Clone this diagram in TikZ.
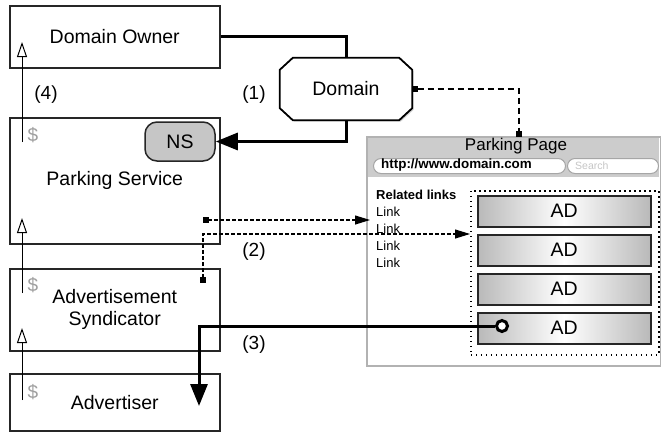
\documentclass[tikz,border=0pt]{standalone}
\usepackage{fontspec}
\setmainfont{Liberation Sans}
\usetikzlibrary{arrows.meta,shadows,calc}
\begin{document}
\begin{tikzpicture}[x=1pt,y=-1pt,
  big/.style={font=\fontsize{19.5}{22}\selectfont},
  box/.style={draw=black!85, line width=1.5pt, fill=white, anchor=north west,
    minimum width=210pt, align=center, big,
    drop shadow={shadow xshift=1.5pt,shadow yshift=-1.5pt,opacity=.35}},
  lbl/.style={font=\fontsize{19}{22}\selectfont},
  dollar/.style={font=\fontsize{19}{22}\selectfont, text=gray!75},
  openarr/.style={line width=1pt, -{Triangle[open,length=15pt,width=10pt]}},
  thickarr/.style={line width=3pt, -{Triangle[length=22pt,width=17pt]}},
  dasharr/.style={line width=1.1pt, dash pattern=on 4pt off 2pt,
    {Square[length=6pt,width=6pt]}-{Triangle[length=15pt,width=9pt]}},
  adbox/.style={draw=black!85, line width=1.5pt, left color=gray!55, right color=gray!55,
    middle color=white, minimum width=173pt, minimum height=31pt, anchor=north west,
    font=\fontsize{19.5}{22}\selectfont},
  linktxt/.style={font=\fontsize{13}{15}\selectfont, anchor=west, inner sep=0pt}
]
\useasboundingbox (0,0) rectangle (661,434);

% left boxes
\node[box, minimum height=62pt] (owner) at (9,5) {Domain Owner};
\node[box, minimum height=126pt] (ps) at (9,117) {Parking Service};
\node[box, minimum height=82pt] (synd) at (9,268) {Advertisement\\Syndicator};
\node[box, minimum height=57pt] (adv) at (9,373) {Advertiser};

% NS
\node[draw=black!85, line width=1.5pt, fill=gray!45, rounded corners=12pt,
  minimum width=70pt, minimum height=39pt, font=\fontsize{19.5}{22}\selectfont]
  (ns) at (180,141.5) {NS};

% dollars
\node[dollar] (d1) at (33,135) {\$};
\node[dollar] (d2) at (33,285) {\$};
\node[dollar] (d3) at (33,392) {\$};

% domain octagon
\node[minimum width=132pt, minimum height=62pt, inner sep=0pt]
  (domain) at (346,89) {};
\draw[line width=1.8pt, fill=white,
  drop shadow={shadow xshift=1.5pt,shadow yshift=-1.5pt,opacity=.35}]
  ($(domain.north west)+(13,0)$) -- ($(domain.north east)+(-13,0)$)
  -- ($(domain.north east)+(0,12)$) -- ($(domain.south east)+(0,-12)$)
  -- ($(domain.south east)+(-13,0)$) -- ($(domain.south west)+(13,0)$)
  -- ($(domain.south west)+(0,-12)$) -- ($(domain.north west)+(0,12)$) -- cycle;
\node[big] (domaintxt) at (domain) {Domain};

% (1) connectors
\draw[line width=3pt] (owner.east) -| (domain.north);
\draw[thickarr] (domain.south) |- (ns.east);

% parking page window
\node[draw=gray!60, line width=1.2pt, fill=white, minimum width=293pt, minimum height=228pt,
  anchor=north west, inner sep=0pt] (page) at (367,137) {};
\fill[gray!40] (367.6,137.6) rectangle (659.4,177);
\draw[gray!60, line width=1.2pt] (page.north west) rectangle (page.south east);
\node[font=\fontsize{17}{19}\selectfont] (ptitle) at (516,146) {Parking Page};
\node[draw=gray!70, line width=1pt, fill=white, rounded corners=7.5pt, minimum width=192pt,
  minimum height=15pt, inner sep=0pt, anchor=north west] (url) at (373,158) {};
\node[font=\bfseries\fontsize{13.4}{15}\selectfont, anchor=west, inner sep=0pt] (urltxt) at (381,165.5) {http://www.domain.com};
\node[draw=gray!70, line width=1pt, fill=white, rounded corners=7.5pt, minimum width=91pt,
  minimum height=15pt, inner sep=0pt, anchor=north west] (search) at (567,158) {};
\node[font=\fontsize{10.5}{12}\selectfont, text=gray!45, anchor=west, inner sep=0pt] (stxt) at (575,166) {Search};

\node[linktxt, font=\bfseries\fontsize{13}{15}\selectfont] (rl) at (376,195) {Related links};
\node[linktxt] (l1) at (376,212) {Link};
\node[linktxt] (l2) at (376,229) {Link};
\node[linktxt] (l3) at (376,246) {Link};
\node[linktxt] (l4) at (376,263) {Link};

% dotted ad area
\node[draw, line width=1.5pt, dash pattern=on 1.5pt off 3.5pt, minimum width=188pt,
  minimum height=164pt, anchor=north west, inner sep=0pt] (adarea) at (470,190) {};

\node[adbox] (ad1) at (477,195) {AD};
\node[adbox] (ad2) at (477,234) {AD};
\node[adbox] (ad3) at (477,273) {AD};
\node[adbox] (ad4) at (477,312) {AD};

% domain -> page dashed
\coordinate (ptop) at (519,137);
\draw[line width=1.4pt, dash pattern=on 6pt off 4pt,
  {Square[length=6pt,width=6pt]}-{Square[length=6pt,width=6pt]}]
  (domain.east) -| (ptop);

% (2) dashed arrows
\coordinate (s1) at (203,220);
\coordinate (e1) at (370,220);
\draw[dasharr] (s1) -- (e1);
\coordinate (s2) at (203,283);
\coordinate (e2) at (470,234);
\draw[dasharr] (s2) |- (e2);

% (3) click path
\node[circle, draw, line width=3pt, fill=white, minimum size=11pt, inner sep=0pt] (dot) at (502,326) {};
\coordinate (clickend) at (199,406);
\draw[thickarr] (dot.west) -| (clickend);

% money flow arrows
\coordinate (m1s) at (22,142); \coordinate (m1e) at (22,42);
\coordinate (m2s) at (22,293); \coordinate (m2e) at (22,218);
\coordinate (m3s) at (22,400); \coordinate (m3e) at (22,328);
\draw[openarr] (m1s) -- (m1e);
\draw[openarr] (m2s) -- (m2e);
\draw[openarr] (m3s) -- (m3e);

% labels
\node[lbl] (n4) at (46,95) {(4)};
\node[lbl] (n1) at (254,95) {(1)};
\node[lbl] (n2) at (254,252) {(2)};
\node[lbl] (n3) at (254,345) {(3)};
\end{tikzpicture}
\end{document}
